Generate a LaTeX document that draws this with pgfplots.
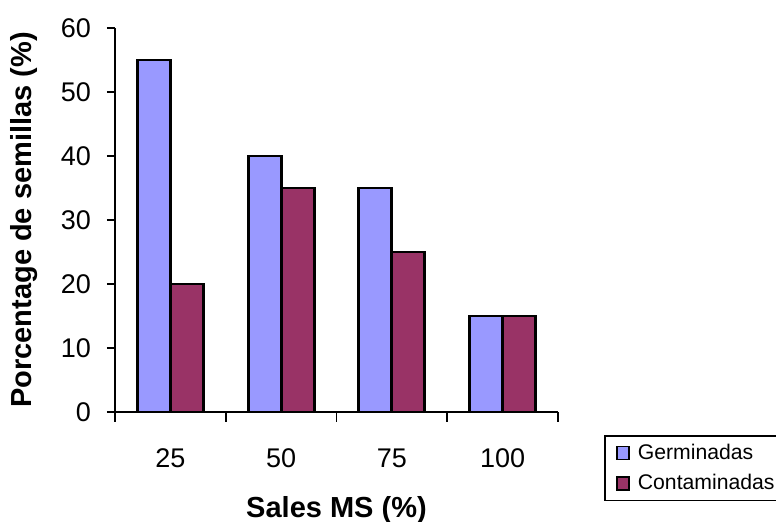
\documentclass[border=0pt]{standalone}
\usepackage{pgfplots}
\pgfplotsset{compat=1.18}
\usepackage{fontspec}
\setmainfont{Liberation Sans}
\definecolor{germ}{HTML}{9999FF}
\definecolor{cont}{HTML}{993366}
\begin{document}
\begin{tikzpicture}
\useasboundingbox (0,0) rectangle (388pt,261pt);
\begin{axis}[
  at={(57.5pt,55pt)}, anchor=south west,
  scale only axis, width=221.5pt, height=192pt,
  xmin=-0.5, xmax=3.5, ymin=0, ymax=60,
  axis lines*=left,
  axis line style={black, line width=0.8pt},
  ybar=0pt, bar width=16.5pt,
  xtick={0,1,2,3}, xticklabels={25,50,75,100},
  major x tick style={draw=none},
  minor xtick={-0.5,0.5,1.5,2.5,3.5},
  minor tick length=5pt,
  ytick={0,10,20,30,40,50,60},
  major tick length=4pt,
  tick align=outside,
  tick style={black, line width=0.8pt},
  /pgf/number format/assume math mode=true,
  tick label style={font=\fontsize{13.5}{15}\selectfont},
  xticklabel style={anchor=center, yshift=-19pt},
  yticklabel style={anchor=east, xshift=-4.5pt},
  xlabel={Sales MS (\%)},
  ylabel={Porcentage de semillas (\%)},
  label style={font=\fontsize{14.5}{17}\selectfont\bfseries},
  xlabel style={at={(rel axis cs:0.5,0)}, anchor=center, yshift=-49pt},
  ylabel style={at={(rel axis cs:0,0.5)}, anchor=center, yshift=45.5pt},
  legend style={at={(rel axis cs:1.104,-0.06)}, anchor=north west,
    draw=black, line width=0.8pt, font=\fontsize{10.6}{12}\selectfont,
    row sep=2pt, inner sep=2pt},
  legend cell align=left,
  legend image code/.code={\path[draw=none, fill=none] (0pt,0pt) -- (12.5pt,0pt); \draw[#1, line width=0.8pt] (4pt,-3.2pt) rectangle (10pt,3.2pt);},
]
\addplot[fill=germ, draw=black, line width=1.4pt] coordinates {(0,55) (1,40) (2,35) (3,15)};
\addplot[fill=cont, draw=black, line width=1.4pt] coordinates {(0,20) (1,35) (2,25) (3,15)};
\legend{Germinadas, Contaminadas}
\end{axis}
\end{tikzpicture}
\end{document}
